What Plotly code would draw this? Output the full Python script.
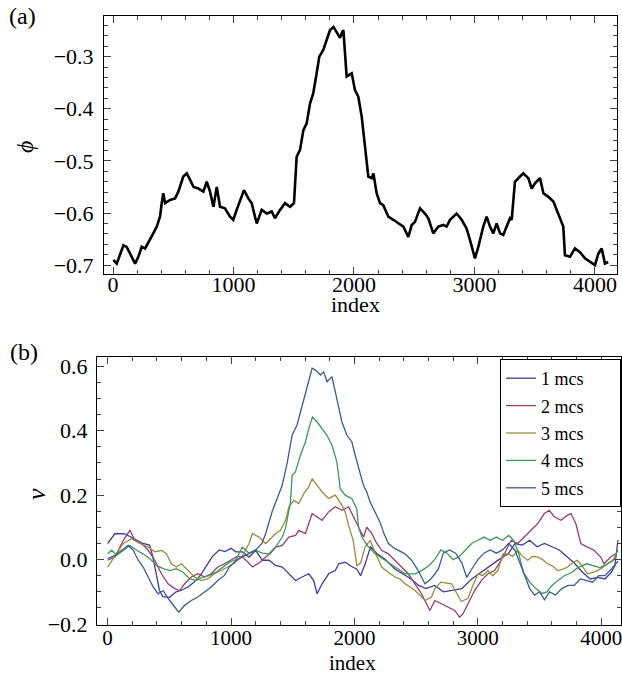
import plotly.graph_objects as go

# ---- panel (a): phi against index ----
idx_a = [3, 31, 86, 113, 155, 183, 210, 238, 266, 307, 334, 363, 390, 404, 417, 432,
         473, 515, 542, 583, 612, 641, 668, 708, 750, 778, 805, 833, 861, 888, 929,
         971, 998, 1026, 1054, 1087, 1123, 1151, 1178, 1193, 1234, 1276, 1317, 1344,
         1386, 1427, 1469, 1502, 1524, 1552, 1580, 1607, 1635, 1662, 1690, 1712, 1745,
         1773, 1801, 1830, 1857, 1884, 1898, 1912, 1939, 1981, 2008, 2036, 2064, 2091,
         2119, 2147, 2161, 2188, 2216, 2243, 2285, 2326, 2368, 2410, 2451, 2479, 2506,
         2548, 2589, 2617, 2658, 2700, 2741, 2769, 2797, 2852, 2894, 2935, 2963, 2990,
         3004, 3032, 3073, 3101, 3129, 3156, 3184, 3212, 3239, 3267, 3295, 3309, 3336,
         3378, 3405, 3447, 3475, 3502, 3544, 3572, 3613, 3655, 3682, 3710, 3737, 3751,
         3793, 3834, 3876, 3917, 3959, 4000, 4028, 4056, 4083, 4110]
phi_a = [-0.690, -0.697, -0.662, -0.665, -0.684, -0.697, -0.684, -0.665, -0.668, -0.652,
         -0.639, -0.626, -0.607, -0.581, -0.562, -0.581, -0.575, -0.572, -0.559, -0.530,
         -0.524, -0.537, -0.550, -0.553, -0.559, -0.540, -0.559, -0.588, -0.550, -0.588,
         -0.591, -0.607, -0.613, -0.594, -0.575, -0.556, -0.572, -0.581, -0.607, -0.620,
         -0.594, -0.601, -0.597, -0.610, -0.594, -0.581, -0.588, -0.581, -0.492, -0.479,
         -0.441, -0.428, -0.390, -0.370, -0.332, -0.300, -0.287, -0.268, -0.249, -0.243,
         -0.255, -0.264, -0.255, -0.249, -0.338, -0.332, -0.364, -0.377, -0.415, -0.466,
         -0.530, -0.533, -0.524, -0.562, -0.581, -0.585, -0.607, -0.613, -0.620, -0.626,
         -0.646, -0.623, -0.617, -0.591, -0.601, -0.610, -0.639, -0.626, -0.623, -0.626,
         -0.613, -0.601, -0.613, -0.630, -0.652, -0.678, -0.687, -0.665, -0.626, -0.607,
         -0.626, -0.639, -0.620, -0.639, -0.642, -0.626, -0.610, -0.613, -0.540, -0.530,
         -0.524, -0.533, -0.553, -0.543, -0.533, -0.562, -0.569, -0.578, -0.594, -0.613,
         -0.626, -0.681, -0.684, -0.668, -0.675, -0.687, -0.694, -0.700, -0.678, -0.668,
         -0.697, -0.694]

# ---- panel (b): v against index, one series per number of mcs ----
idx_1 = [0, 60, 140, 200, 286, 340, 367, 394, 420, 447, 501, 555, 600, 650, 700, 750,
         800, 850, 904, 950, 1000, 1039, 1092, 1146, 1200, 1254, 1307, 1361, 1415, 1469,
         1523, 1576, 1630, 1670, 1697, 1738, 1791, 1845, 1872, 1926, 1970, 2020, 2050,
         2090, 2130, 2180, 2250, 2330, 2400, 2460, 2520, 2580, 2650, 2720, 2800, 2870,
         2950, 3020, 3100, 3170, 3250, 3300, 3360, 3420, 3480, 3540, 3600, 3660, 3720,
         3780, 3850, 3910, 3970, 4030, 4080, 4110, 4135]
v_1 = [0.05, 0.081, 0.08, 0.068, 0.05, 0.045, 0.008, -0.044, -0.095, -0.115, -0.117,
       -0.1, -0.095, -0.085, -0.07, -0.05, -0.02, 0.01, 0.03, 0.025, 0.035, 0.024, 0.024,
       0.008, 0.029, -0.002, -0.002, -0.018, -0.023, -0.044, -0.065, -0.054, -0.044,
       -0.065, -0.106, -0.075, -0.044, -0.034, -0.013, -0.008, -0.02, -0.03, -0.05,
       -0.01, 0.04, 0.02, 0.0, -0.03, -0.045, -0.06, -0.08, -0.09, -0.08, -0.1, -0.095,
       -0.09, -0.06, -0.04, -0.02, 0.0, 0.02, 0.05, 0.045, 0.06, 0.04, 0.05, 0.04, 0.03,
       0.01, -0.01, -0.04, -0.06, -0.055, -0.06, -0.04, -0.02, 0.06]

idx_2 = [0, 60, 127, 181, 221, 275, 329, 382, 436, 490, 544, 584, 624, 678, 732, 786,
         839, 893, 947, 1000, 1050, 1092, 1130, 1173, 1230, 1281, 1320, 1361, 1415, 1469,
         1523, 1549, 1603, 1657, 1697, 1738, 1791, 1845, 1899, 1953, 2006, 2033, 2074,
         2100, 2141, 2181, 2221, 2275, 2329, 2383, 2436, 2490, 2544, 2584, 2611, 2652,
         2705, 2759, 2813, 2853, 2880, 2920, 2974, 3028, 3082, 3135, 3189, 3243, 3270,
         3323, 3377, 3431, 3485, 3539, 3579, 3619, 3673, 3727, 3754, 3794, 3834, 3888,
         3942, 3996, 4022, 4076, 4116]
v_2 = [-0.002, 0.008, 0.06, 0.091, 0.06, 0.05, 0.029, -0.002, -0.044, -0.075, -0.09,
       -0.096, -0.075, -0.054, -0.044, -0.054, -0.044, -0.023, -0.013, -0.002, 0.01,
       0.008, -0.005, -0.023, -0.01, 0.008, 0.02, 0.039, 0.044, 0.07, 0.075, 0.091,
       0.081, 0.143, 0.133, 0.122, 0.148, 0.164, 0.153, 0.164, 0.122, 0.101, 0.07,
       0.101, 0.081, 0.05, 0.029, 0.018, -0.002, -0.023, -0.044, -0.075, -0.106, -0.137,
       -0.158, -0.127, -0.137, -0.147, -0.158, -0.179, -0.168, -0.137, -0.096, -0.065,
       -0.044, -0.034, -0.002, 0.039, 0.06, 0.05, 0.07, 0.091, 0.112, 0.143, 0.153,
       0.133, 0.122, 0.138, 0.143, 0.112, 0.05, 0.039, 0.029, 0.008, -0.013, 0.008, 0.018]

idx_3 = [0, 60, 127, 194, 261, 329, 382, 436, 476, 517, 557, 597, 651, 705, 759, 813,
         866, 920, 974, 1030, 1090, 1146, 1173, 1227, 1281, 1321, 1361, 1401, 1442, 1469,
         1509, 1549, 1590, 1630, 1657, 1697, 1738, 1791, 1845, 1898, 1925, 1952, 1990,
         2020, 2050, 2087, 2127, 2170, 2221, 2275, 2329, 2370, 2410, 2450, 2490, 2530,
         2571, 2625, 2652, 2700, 2786, 2866, 2920, 2960, 3001, 3040, 3082, 3120, 3162,
         3203, 3243, 3283, 3323, 3364, 3404, 3445, 3485, 3525, 3565, 3606, 3646, 3686,
         3727, 3767, 3807, 3847, 3888, 3930, 3969, 4009, 4049, 4090, 4120]
v_3 = [-0.023, 0.013, 0.05, 0.065, 0.05, 0.039, 0.024, 0.029, 0.018, -0.013, -0.023,
       -0.013, -0.034, -0.054, -0.065, -0.059, -0.044, -0.034, -0.023, -0.01, 0.01, 0.05,
       0.081, 0.07, 0.05, 0.065, 0.081, 0.091, 0.122, 0.164, 0.184, 0.174, 0.205, 0.226,
       0.251, 0.231, 0.21, 0.19, 0.2, 0.169, 0.148, 0.107, 0.06, -0.02, -0.01, 0.04,
       0.06, 0.02, -0.023, -0.04, -0.054, -0.06, -0.075, -0.085, -0.096, -0.11, -0.127,
       -0.116, -0.09, -0.07, -0.075, -0.13, -0.12, -0.08, -0.044, -0.05, -0.034, -0.05,
       -0.034, 0.018, 0.018, 0.01, 0.029, 0.01, -0.002, 0.01, 0.008, 0.0, -0.013, -0.02,
       -0.034, -0.03, -0.023, -0.01, -0.002, -0.02, -0.044, -0.04, -0.034, -0.025,
       -0.013, -0.005, 0.008]

idx_4 = [0, 33, 73, 127, 181, 235, 288, 342, 396, 450, 503, 557, 611, 665, 718, 772,
         826, 880, 933, 987, 1040, 1092, 1146, 1200, 1254, 1307, 1361, 1415, 1441, 1469,
         1482, 1495, 1522, 1562, 1603, 1630, 1660, 1697, 1737, 1777, 1818, 1858, 1885,
         1925, 1979, 2019, 2033, 2060, 2114, 2168, 2248, 2329, 2410, 2490, 2544, 2600,
         2650, 2700, 2750, 2800, 2850, 2900, 2950, 3000, 3050, 3100, 3150, 3200, 3250,
         3290, 3330, 3370, 3420, 3470, 3520, 3560, 3600, 3650, 3700, 3760, 3810, 3880,
         3940, 3990, 4050, 4100, 4135]
v_4 = [0.018, 0.029, 0.013, 0.029, 0.044, 0.029, 0.018, 0.003, -0.018, -0.028, -0.034,
       -0.028, -0.039, -0.059, -0.065, -0.054, -0.049, -0.039, -0.023, -0.008, 0.0,
       0.039, 0.02, 0.029, 0.02, 0.018, 0.039, 0.07, 0.096, 0.15, 0.179, 0.262, 0.272,
       0.324, 0.365, 0.407, 0.443, 0.428, 0.407, 0.386, 0.355, 0.303, 0.22, 0.2, 0.189,
       0.158, 0.101, 0.07, 0.039, 0.018, -0.002, -0.023, -0.044, -0.044, -0.034, -0.02,
       0.0, 0.03, 0.02, 0.0, 0.01, 0.03, 0.05, 0.06, 0.07, 0.06, 0.07, 0.06, 0.075, 0.06,
       0.02, -0.04, -0.07, -0.09, -0.105, -0.1, -0.08, -0.065, -0.05, -0.04, -0.025,
       -0.013, -0.02, -0.025, -0.013, 0.0, 0.03]

idx_5 = [0, 60, 114, 167, 208, 248, 288, 329, 369, 409, 450, 503, 544, 576, 624, 678,
         732, 786, 839, 893, 947, 987, 1050, 1100, 1150, 1200, 1250, 1281, 1334, 1374,
         1414, 1455, 1495, 1535, 1576, 1616, 1657, 1683, 1724, 1751, 1778, 1818, 1845,
         1872, 1898, 1939, 1979, 2006, 2033, 2073, 2100, 2127, 2167, 2208, 2240, 2275,
         2329, 2410, 2463, 2517, 2571, 2620, 2680, 2720, 2770, 2820, 2870, 2910, 2950,
         3000, 3050, 3100, 3150, 3200, 3250, 3300, 3340, 3380, 3420, 3460, 3500, 3540,
         3580, 3630, 3680, 3730, 3780, 3830, 3880, 3930, 3980, 4030, 4080, 4135]
v_5 = [0.003, 0.013, 0.029, 0.044, 0.029, -0.002, -0.023, -0.054, -0.085, -0.106, -0.096,
       -0.127, -0.147, -0.163, -0.142, -0.127, -0.116, -0.101, -0.085, -0.065, -0.049,
       -0.023, 0.0, 0.01, 0.02, 0.03, 0.05, 0.081, 0.15, 0.19, 0.23, 0.3, 0.386, 0.418,
       0.48, 0.532, 0.594, 0.589, 0.573, 0.583, 0.552, 0.568, 0.521, 0.48, 0.428, 0.386,
       0.366, 0.324, 0.283, 0.231, 0.21, 0.179, 0.148, 0.115, 0.08, 0.05, 0.034, 0.018,
       -0.002, -0.034, -0.075, -0.06, -0.03, 0.02, 0.03, 0.02, -0.01, -0.055, -0.03, 0.0,
       0.02, 0.03, 0.02, 0.03, 0.05, 0.03, -0.01, -0.05, -0.09, -0.11, -0.1, -0.125, -0.1,
       -0.11, -0.09, -0.08, -0.08, -0.06, -0.065, -0.07, -0.05, -0.05, -0.03, -0.005]

names_b = ["1 mcs", "2 mcs", "3 mcs", "4 mcs", "5 mcs"]
colors_b = ["rgb(63,61,153)", "rgb(153,61,113)", "rgb(153,139,61)",
            "rgb(61,153,86)", "rgb(61,90,153)"]
series_b = [(idx_1, v_1), (idx_2, v_2), (idx_3, v_3), (idx_4, v_4), (idx_5, v_5)]

SERIF = "Liberation Serif"
W, H = 622, 674
LEGEND_PAD = "\u00a0" * 7   # widens the legend box to the right of the entries

fig = go.Figure()
fig.add_trace(go.Scatter(x=idx_a, y=phi_a, mode="lines", showlegend=False,
                         line=dict(color="black", width=2.6), xaxis="x", yaxis="y"))
for name, color, (xs, ys) in zip(names_b, colors_b, series_b):
    fig.add_trace(go.Scatter(x=xs, y=ys, mode="lines", name=name + LEGEND_PAD,
                             legendgroup=name, line=dict(color=color, width=1.3),
                             xaxis="x2", yaxis="y2"))


def frame_axis(**kw):
    base = dict(showline=True, linecolor="black", linewidth=1, mirror="allticks",
                ticks="inside", ticklen=7, tickwidth=1, tickcolor="#444",
                showgrid=False, zeroline=False, automargin=False,
                ticklabeloverflow="allow",
                tickfont=dict(family=SERIF, size=22, color="black"))
    base.update(kw)
    return base


def px_x(p):
    return p / W


def px_y(p):
    return 1 - p / H


fig.update_layout(
    width=W, height=H, margin=dict(l=0, r=0, t=0, b=0),
    paper_bgcolor="white", plot_bgcolor="white",
    xaxis=frame_axis(domain=[px_x(104), px_x(617)], anchor="y", range=[-75, 4183],
                     tick0=0, dtick=1000, ticklabelstandoff=-9,
                     minor=dict(ticks="inside", ticklen=4, dtick=200, tickcolor="#444")),
    yaxis=frame_axis(domain=[px_y(274), px_y(16)], anchor="x", range=[-0.717, -0.222],
                     tick0=-0.7, dtick=0.1, tickformat=".1f", ticklabelstandoff=5,
                     minor=dict(ticks="inside", ticklen=4, dtick=0.02, tickcolor="#444")),
    xaxis2=frame_axis(domain=[px_x(97), px_x(621)], anchor="y2", range=[-86, 4160],
                      tick0=0, dtick=1000, ticklabelstandoff=-6,
                      tickfont=dict(family=SERIF, size=21, color="black"),
                      minor=dict(ticks="inside", ticklen=4, dtick=200, tickcolor="#444")),
    yaxis2=frame_axis(domain=[px_y(625), px_y(357)], anchor="x2", range=[-0.203, 0.629],
                      tick0=0, dtick=0.2, tickformat=".1f", ticklabelstandoff=4,
                      minor=dict(ticks="inside", ticklen=4, dtick=0.05, tickcolor="#444")),
    legend=dict(x=px_x(500), y=px_y(359), xanchor="left", yanchor="top",
                bordercolor="black", borderwidth=1, bgcolor="white",
                font=dict(family=SERIF, size=18, color="black"),
                tracegroupgap=1),
)

labels = [
    ("(a)", 22, 16, 0, 24),
    ("(b)", 24, 352, 0, 24),
    ("<i>ϕ</i>", 25, 147, -90, 24),
    ("<i>v</i>", 36, 494, -90, 26),
    ("index", 355, 304, 0, 22),
    ("index", 352, 663, 0, 21),
]
for text, x, y, angle, size in labels:
    fig.add_annotation(text=text, x=px_x(x), y=px_y(y), xref="paper", yref="paper",
                       xanchor="center", yanchor="middle", showarrow=False,
                       textangle=angle, font=dict(family=SERIF, size=size, color="black"))

fig.write_html("out.html")
